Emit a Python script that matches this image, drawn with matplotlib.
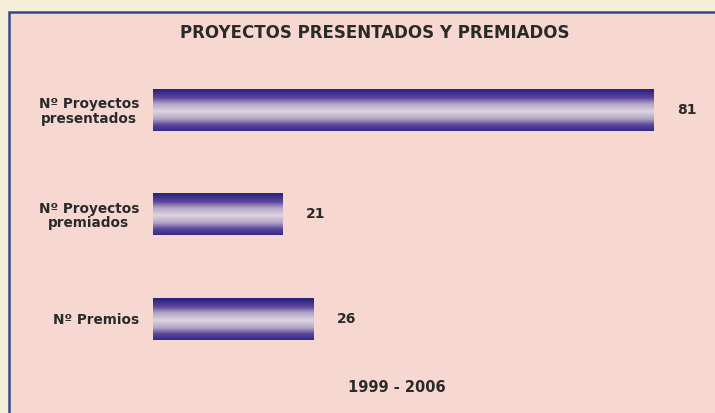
import numpy as np
import matplotlib
matplotlib.use('Agg')
import matplotlib.pyplot as plt
from matplotlib.colors import LinearSegmentedColormap
from matplotlib.patches import Rectangle

# ── Data ────────────────────────────────────────────────────────────────────
categories = ['Nº Proyectos\npresentados', 'Nº Proyectos\npremiados', 'Nº Premios']
values = [81, 21, 26]
title = 'PROYECTOS PRESENTADOS Y PREMIADOS'
period = '1999 - 2006'

plt.rcParams['font.family'] = ['DejaVu Sans']
TXT = '#2a2a2a'

W, H = 715, 413
fig = plt.figure(figsize=(W / 100, H / 100), dpi=100, facecolor='#f4eedb')

# pink panel with blue frame (left + top edges visible)
fig.patches.append(Rectangle((9 / W, -0.1), 1.2, 1 - 12 / H + 0.1,
                             transform=fig.transFigure, facecolor='#f6d8d0',
                             edgecolor='#2f4c88', linewidth=1.8, zorder=-5))

# axes: x from 153px, bars centred at 110 / 215 / 319 px
ax = fig.add_axes([153 / W, 1 - 371 / H, (W - 153) / W, 313.5 / H])
ax.set_zorder(2)
ax.patch.set_alpha(0)
for s in ax.spines.values():
    s.set_visible(False)

y = np.arange(len(values))
bar_h = 0.40
bars = ax.barh(y, values, height=bar_h, color='none', edgecolor='none')

# cylinder-like vertical gradient
cmap = LinearSegmentedColormap.from_list(
    'cyl', [(0.0, '#ddd4de'), (0.35, '#b3a6c8'), (0.65, '#5a479c'), (1.0, '#2c2382')])
t = np.linspace(0, 1, 200)
grad = np.abs(2 * t - 1.06).clip(0, 1)[:, None]
for rect, v, yy in zip(bars, values, y):
    im = ax.imshow(grad, cmap=cmap, vmin=0, vmax=1, aspect='auto',
                   extent=(0, v, yy + bar_h / 2, yy - bar_h / 2), zorder=2)
    im.set_clip_path(rect)

ax.set_xlim(0, 91)
ax.set_ylim(len(values) - 0.5, -0.5)
ax.set_xticks([])
ax.set_yticks(y)
ax.set_yticklabels(categories, fontsize=9.8, fontweight='bold', color=TXT,
                   linespacing=1.05, multialignment='center')
ax.tick_params(axis='y', length=0, pad=10)

for rect, v in zip(bars, values):
    ax.annotate(str(v), (v, rect.get_y() + rect.get_height() / 2),
                xytext=(17, 0), textcoords='offset points', ha='left', va='center',
                fontsize=10, fontweight='bold', color=TXT)

fig.text(375 / W, 1 - 33 / H, title, ha='center', va='center',
         fontsize=12, fontweight='bold', color=TXT)
fig.text(397 / W, 1 - 388 / H, period, ha='center', va='center',
         fontsize=10.5, fontweight='bold', color=TXT)

fig.savefig('out.png', dpi=100, facecolor=fig.get_facecolor())
